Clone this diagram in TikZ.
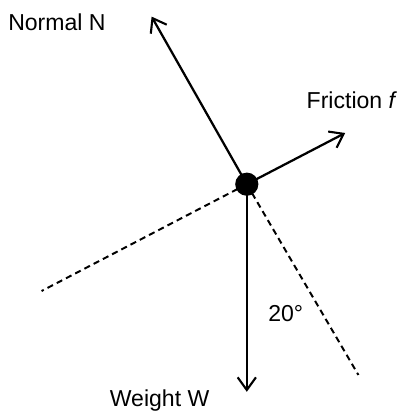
\documentclass[tikz,border=0pt]{standalone}
\usepackage{fontspec}
\setmainfont{Liberation Sans}
\usetikzlibrary{arrows.meta}
\begin{document}
\begin{tikzpicture}[
    force/.style={line width=1.6pt, -{Straight Barb[length=9pt,width=13pt,line width=1.5pt]}},
    slope/.style={line width=1.4pt, dash pattern=on 4.4pt off 3pt},
    ball/.style={circle, fill=black, minimum size=0.58cm, inner sep=0pt},
    lbl/.style={inner sep=0pt, anchor=base west, font=\fontsize{16.4}{19}\selectfont}]

    \useasboundingbox (0,0) rectangle (10,10.275);

    % Punto di applicazione e estremi
    \coordinate (o) at (6.17,5.67);
    \coordinate (nTip) at (3.79,9.86);
    \coordinate (fTip) at (8.63,6.95);
    \coordinate (wTip) at (6.17,0.48);
    \coordinate (sL) at (1.04,3.0);
    \coordinate (sR) at (8.96,0.9);

    % Piano inclinato (tratteggiato)
    \draw[slope] (o) -- (sL);
    \draw[slope] (o) -- (sR);

    % Forze
    \draw[force] (o) -- (nTip);
    \draw[force] (o) -- (fTip);
    \draw[force] (o) -- (wTip);

    % Corpo
    \node[ball] (mass) at (o) {};

    % Etichette
    \node[lbl] (nLbl) at (0.2,9.5) {Normal N};
    \node[lbl] (fLbl) at (7.66,7.57) {Friction \textit{f}};
    \node[lbl] (wLbl) at (2.74,0.12) {Weight W};
    \node[lbl] (aLbl) at (6.7,2.23) {20°};
  \end{tikzpicture}
\end{document}
